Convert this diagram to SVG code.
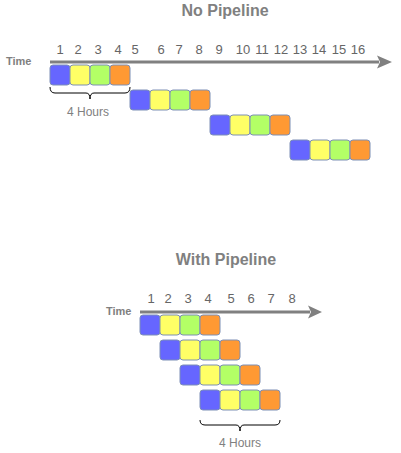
<svg xmlns="http://www.w3.org/2000/svg" width="401" height="453" viewBox="0 0 401 453">
<defs>
<style>
.t{font-family:"Liberation Sans",Arial,Helvetica,sans-serif;fill:#808080}
.title{font-size:16px;font-weight:bold;text-anchor:middle}
.time{font-size:11px;font-weight:bold}
.num{font-size:13px;fill:#666666;text-anchor:middle}
.hrs{font-size:12px;text-anchor:middle}
.b{stroke:#7d8fb6;stroke-width:1}
.c1{fill:#6666ff}.c2{fill:#ffff66}.c3{fill:#b3ff66}.c4{fill:#ff9933}
.ax{stroke:#808080;stroke-width:3;fill:none}
.ah{fill:#808080}
.br{stroke:#000;stroke-width:1;fill:none}
</style>
<g id="job">
<rect class="b c1" x="0" y="0" width="20" height="20" rx="3"/>
<rect class="b c2" x="20" y="0" width="20" height="20" rx="3"/>
<rect class="b c3" x="40" y="0" width="20" height="20" rx="3"/>
<rect class="b c4" x="60" y="0" width="20" height="20" rx="3"/>
</g>
</defs>
<g id="no-pipeline">
<text class="t title" x="225" y="16">No Pipeline</text>
<text class="t time" x="6" y="65">Time</text>
<g id="top-numbers">
<text class="t num" x="60" y="54">1</text>
<text class="t num" x="78" y="54">2</text>
<text class="t num" x="98" y="54">3</text>
<text class="t num" x="118" y="54">4</text>
<text class="t num" x="135" y="54">5</text>
<text class="t num" x="161" y="54">6</text>
<text class="t num" x="179" y="54">7</text>
<text class="t num" x="199" y="54">8</text>
<text class="t num" x="219" y="54">9</text>
<text class="t num" x="243" y="54">10</text>
<text class="t num" x="262" y="54">11</text>
<text class="t num" x="281" y="54">12</text>
<text class="t num" x="300" y="54">13</text>
<text class="t num" x="319" y="54">14</text>
<text class="t num" x="339" y="54">15</text>
<text class="t num" x="358" y="54">16</text>
</g>
<g id="top-job1"><use href="#job" x="50" y="65"/></g>
<g id="top-job2"><use href="#job" x="130" y="90"/></g>
<g id="top-job3"><use href="#job" x="210" y="115"/></g>
<g id="top-job4"><use href="#job" x="290" y="140"/></g>
<g id="top-brace">
<path class="br" d="M50,87 Q50,93 55,93 L86,93 Q90,93 90,99 Q90,93 94,93 L125,93 Q130,93 130,87"/>
<text class="t hrs" x="88" y="116">4 Hours</text>
</g>
</g>
<g id="with-pipeline">
<text class="t title" x="226" y="265">With Pipeline</text>
<text class="t time" x="106" y="315">Time</text>
<g id="bottom-numbers">
<text class="t num" x="151" y="303">1</text>
<text class="t num" x="168" y="303">2</text>
<text class="t num" x="188" y="303">3</text>
<text class="t num" x="208" y="303">4</text>
<text class="t num" x="231" y="303">5</text>
<text class="t num" x="251" y="303">6</text>
<text class="t num" x="271" y="303">7</text>
<text class="t num" x="292" y="303">8</text>
</g>
<g id="bot-job1"><use href="#job" x="140" y="315"/></g>
<g id="bot-job2"><use href="#job" x="160" y="340"/></g>
<g id="bot-job3"><use href="#job" x="180" y="365"/></g>
<g id="bot-job4"><use href="#job" x="200" y="390"/></g>
<g id="bottom-brace">
<path class="br" d="M200,420 Q200,425 205,425 L236,425 Q240,425 240,431 Q240,425 244,425 L275,425 Q280,425 280,420"/>
<text class="t hrs" x="240" y="447">4 Hours</text>
</g>
</g>
<g id="connectors">
<line class="ax" x1="50" y1="62" x2="379" y2="62"/>
<polygon class="ah" points="377,55.5 392,62 377,68.5 380,62"/>
<line class="ax" x1="140" y1="312" x2="310" y2="312"/>
<polygon class="ah" points="308,305.5 322,312 308,318.5 311,312"/>
</g>
</svg>
